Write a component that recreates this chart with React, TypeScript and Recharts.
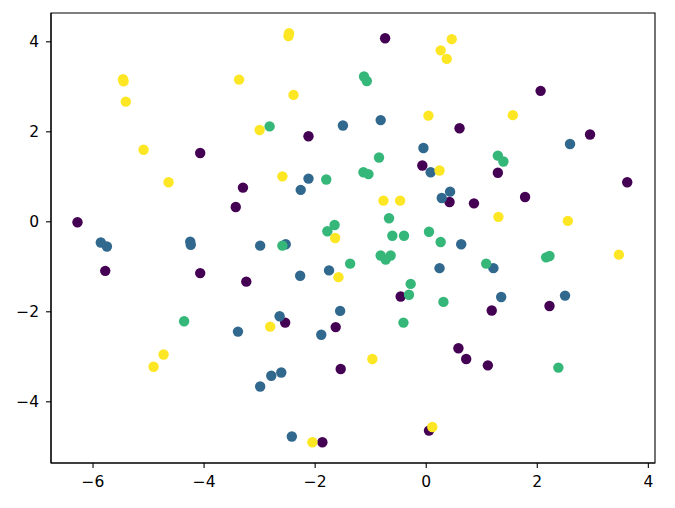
import React from 'react';
import { ScatterChart, Scatter, XAxis, YAxis, ReferenceArea } from 'recharts';

type P = { x: number; y: number };

const purplePoints: P[] = [
  { x: -6.28, y: -0.01 }, { x: -4.07, y: 1.53 }, { x: -3.3, y: 0.76 }, { x: -3.43, y: 0.33 },
  { x: -0.74, y: 4.08 }, { x: -2.12, y: 1.9 }, { x: 0.6, y: 2.08 }, { x: -0.07, y: 1.25 },
  { x: 0.42, y: 0.44 }, { x: 0.86, y: 0.41 }, { x: 2.06, y: 2.91 }, { x: 2.95, y: 1.94 },
  { x: 1.29, y: 1.09 }, { x: 3.62, y: 0.88 }, { x: 1.78, y: 0.55 }, { x: -5.78, y: -1.09 },
  { x: -4.07, y: -1.14 }, { x: -3.24, y: -1.33 }, { x: -0.46, y: -1.66 }, { x: -2.54, y: -2.24 },
  { x: -1.63, y: -2.34 }, { x: 0.58, y: -2.81 }, { x: 0.72, y: -3.05 }, { x: -1.54, y: -3.27 },
  { x: -1.87, y: -4.9 }, { x: 0.05, y: -4.64 }, { x: 1.18, y: -1.97 }, { x: 2.22, y: -1.87 },
  { x: 1.11, y: -3.19 },
];

const bluePoints: P[] = [
  { x: -5.86, y: -0.46 }, { x: -5.75, y: -0.55 }, { x: -4.25, y: -0.44 }, { x: -4.24, y: -0.51 },
  { x: -2.99, y: -0.53 }, { x: -3.39, y: -2.44 }, { x: -2.99, y: -3.66 }, { x: -2.79, y: -3.42 },
  { x: -2.61, y: -3.35 }, { x: -1.89, y: -2.51 }, { x: -2.42, y: -4.77 }, { x: -1.5, y: 2.14 },
  { x: -0.82, y: 2.26 }, { x: -0.05, y: 1.64 }, { x: 0.08, y: 1.1 }, { x: -2.12, y: 0.96 },
  { x: -2.26, y: 0.71 }, { x: 0.43, y: 0.67 }, { x: 0.28, y: 0.53 }, { x: 2.59, y: 1.73 },
  { x: -2.53, y: -0.5 }, { x: -2.27, y: -1.2 }, { x: -1.75, y: -1.08 }, { x: 0.63, y: -0.5 },
  { x: 0.24, y: -1.03 }, { x: -1.55, y: -1.98 }, { x: -2.64, y: -2.1 }, { x: 1.21, y: -1.03 },
  { x: 1.35, y: -1.67 }, { x: 2.5, y: -1.64 },
];

const greenPoints: P[] = [
  { x: -2.82, y: 2.12 }, { x: -1.12, y: 3.23 }, { x: -1.07, y: 3.13 }, { x: -0.85, y: 1.43 },
  { x: -1.13, y: 1.1 }, { x: -1.04, y: 1.06 }, { x: -1.8, y: 0.94 }, { x: 1.29, y: 1.47 },
  { x: 1.39, y: 1.34 }, { x: -4.36, y: -2.21 }, { x: -1.65, y: -0.07 }, { x: -1.78, y: -0.21 },
  { x: -0.67, y: 0.08 }, { x: -0.61, y: -0.31 }, { x: -0.4, y: -0.31 }, { x: 0.05, y: -0.22 },
  { x: 0.26, y: -0.45 }, { x: -2.59, y: -0.53 }, { x: -0.82, y: -0.75 }, { x: -0.73, y: -0.84 },
  { x: -0.64, y: -0.75 }, { x: -1.37, y: -0.93 }, { x: -0.28, y: -1.38 }, { x: -0.31, y: -1.62 },
  { x: 0.31, y: -1.78 }, { x: -0.41, y: -2.24 }, { x: 1.08, y: -0.93 }, { x: 2.16, y: -0.79 },
  { x: 2.22, y: -0.76 }, { x: 2.38, y: -3.24 },
];

const yellowPoints: P[] = [
  { x: -5.46, y: 3.17 }, { x: -5.45, y: 3.12 }, { x: -5.41, y: 2.67 }, { x: -5.09, y: 1.6 },
  { x: -4.64, y: 0.88 }, { x: -3.37, y: 3.16 }, { x: -3.0, y: 2.04 }, { x: -2.47, y: 4.19 },
  { x: -2.48, y: 4.13 }, { x: -2.39, y: 2.82 }, { x: -2.59, y: 1.01 }, { x: 0.26, y: 3.81 },
  { x: 0.37, y: 3.62 }, { x: 0.46, y: 4.06 }, { x: 0.04, y: 2.36 }, { x: 0.24, y: 1.14 },
  { x: -0.77, y: 0.47 }, { x: -0.47, y: 0.47 }, { x: -1.64, y: -0.36 }, { x: 1.56, y: 2.37 },
  { x: 1.3, y: 0.11 }, { x: 2.55, y: 0.02 }, { x: 3.47, y: -0.73 }, { x: -1.58, y: -1.23 },
  { x: -2.81, y: -2.33 }, { x: -4.73, y: -2.95 }, { x: -4.91, y: -3.22 }, { x: -0.97, y: -3.05 },
  { x: -2.05, y: -4.9 }, { x: 0.11, y: -4.56 },
];

const xTicks = [-6, -4, -2, 0, 2, 4];
const yTicks = [-4, -2, 0, 2, 4];
const xDomain = [-6.757, 4.12];
const yDomain = [-5.36, 4.64];

const fmt = (v: number) => String(v).replace('-', '\u2212');

const dot = (color: string) => (props: any) => (
  <circle cx={props.cx} cy={props.cy} r={5.2} fill={color} />
);

const tickStyle = { fill: '#000', fontSize: 15.5, fontFamily: 'DejaVu Sans' };

export default function App() {
  return (
    <div style={{ position: 'absolute', left: 0, top: 0, background: '#fff' }}>
      <ScatterChart width={675} height={508} margin={{ top: 13, right: 20, bottom: 0, left: 0 }}>
        <XAxis
          xAxisId="b"
          type="number"
          dataKey="x"
          domain={xDomain}
          ticks={xTicks}
          allowDataOverflow
          height={45}
          tickFormatter={fmt}
          tick={tickStyle}
          tickSize={5}
          tickLine={{ stroke: '#000', strokeWidth: 1.1 }}
          axisLine={{ stroke: '#000', strokeWidth: 1.1 }}
          tickMargin={8}
        />
        <YAxis
          yAxisId="l"
          type="number"
          dataKey="y"
          domain={yDomain}
          ticks={yTicks}
          allowDataOverflow
          width={51}
          tickFormatter={fmt}
          tick={tickStyle}
          tickSize={5}
          tickLine={{ stroke: '#000', strokeWidth: 1.1 }}
          axisLine={{ stroke: '#000', strokeWidth: 1.1 }}
          tickMargin={7}
        />
        <ReferenceArea
          xAxisId="b"
          yAxisId="l"
          x1={xDomain[0]}
          x2={xDomain[1]}
          y1={yDomain[0]}
          y2={yDomain[1]}
          fill="none"
          fillOpacity={0}
          stroke="#000"
          strokeWidth={1.1}
          ifOverflow="visible"
        />
        <Scatter xAxisId="b" yAxisId="l" data={purplePoints} shape={dot('#440154')} isAnimationActive={false} />
        <Scatter xAxisId="b" yAxisId="l" data={bluePoints} shape={dot('#31688e')} isAnimationActive={false} />
        <Scatter xAxisId="b" yAxisId="l" data={greenPoints} shape={dot('#35b779')} isAnimationActive={false} />
        <Scatter xAxisId="b" yAxisId="l" data={yellowPoints} shape={dot('#fde725')} isAnimationActive={false} />
      </ScatterChart>
    </div>
  );
}
